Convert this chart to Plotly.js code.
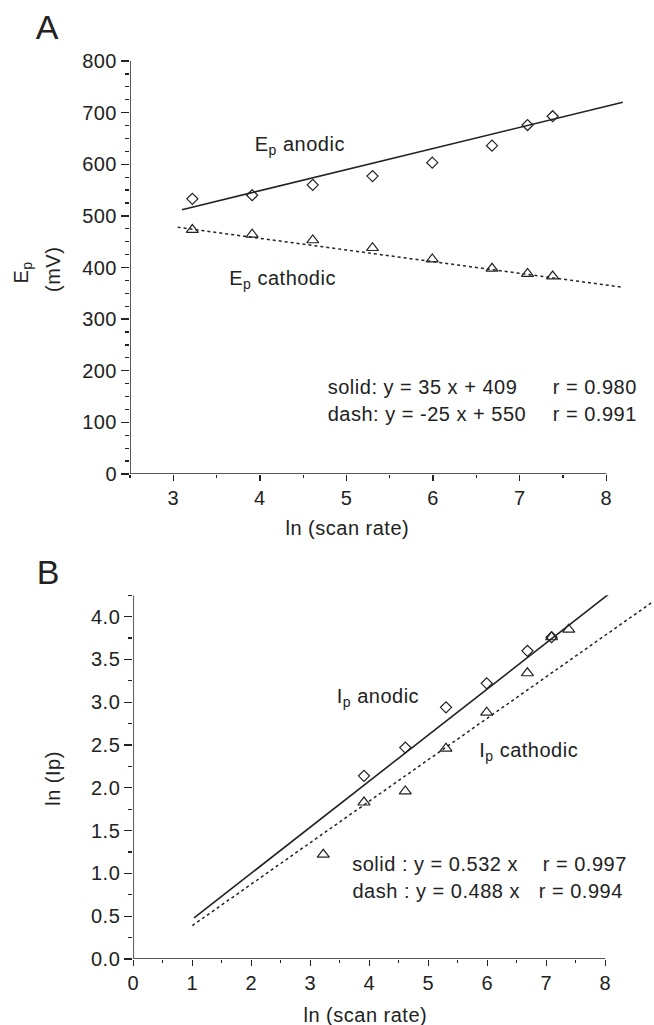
<!DOCTYPE html>
<html>
<head>
<meta charset="utf-8">
<script src="https://cdn.plot.ly/plotly-3.0.1.min.js"></script>
<style>
html,body{margin:0;padding:0;background:#fff;}
#chart svg text{letter-spacing:0.5px;}
</style>
</head>
<body>
<div id="chart" style="width:654px;height:1025px;"></div>
<script>
// ---- Data ----
const lnScanRate = [3.22, 3.91, 4.61, 5.30, 5.99, 6.68, 7.09, 7.38];

// Panel A: peak potentials (mV)
const epAnodic   = [533, 540, 560, 577, 603, 636, 676, 693];
const epCathodic = [473, 464, 453, 438, 416, 398, 388, 383];
const fitA_solid_x = [3.10, 8.19];
const fitA_solid_y = [512, 720];
const fitA_dash_x  = [3.05, 8.18];
const fitA_dash_y  = [478, 362];

// Panel B: ln of peak currents
const lnIpAnodic   = [null, 2.14, 2.47, 2.94, 3.22, 3.60, 3.76, null];
const lnIpCathodic = [1.22, 1.83, 1.96, 2.46, 2.88, 3.34, 3.76, 3.85];
const fitB_solid_x = [1.03, 8.09];
const fitB_solid_y = [0.48, 4.28];
const fitB_dash_x  = [1.0, 8.8];
const fitB_dash_y  = [0.39, 4.17];

// Tick labels
const xTicksA = [3, 4, 5, 6, 7, 8];
const yTicksA = [0, 100, 200, 300, 400, 500, 600, 700, 800];
const xTicksB = [0, 1, 2, 3, 4, 5, 6, 7, 8];
const yTicksB = [0, 0.5, 1.0, 1.5, 2.0, 2.5, 3.0, 3.5, 4.0];

// ---- Layout helpers ----
const W = 654, H = 1025;
const FONT = "Liberation Sans, Arial, Helvetica, sans-serif";
const INK = "#222";
function px(x){ return x / W; }
function py(y){ return 1 - y / H; }
function range(a, b, s){ const r=[]; for(let v=a; v<=b+1e-9; v+=s) r.push(Math.round(v*1000)/1000); return r; }

const markerDia = {symbol:'diamond-open', size:8.5, color:INK, line:{width:1.2, color:INK}};
const markerTri = {symbol:'triangle-up-open', size:10.5, color:INK, line:{width:1.2, color:INK}};

const traces = [
  {x: fitA_solid_x, y: fitA_solid_y, xaxis:'x', yaxis:'y', mode:'lines', line:{color:INK, width:1.6}},
  {x: fitA_dash_x,  y: fitA_dash_y,  xaxis:'x', yaxis:'y', mode:'lines', line:{color:INK, width:1.5, dash:'dot'}},
  {x: lnScanRate, y: epAnodic,   xaxis:'x', yaxis:'y', mode:'markers', marker:markerDia},
  {x: lnScanRate, y: epCathodic, xaxis:'x', yaxis:'y', mode:'markers', marker:markerTri},
  {x: fitB_solid_x, y: fitB_solid_y, xaxis:'x2', yaxis:'y2', mode:'lines', line:{color:INK, width:1.6}},
  {x: fitB_dash_x,  y: fitB_dash_y,  xaxis:'x2', yaxis:'y2', mode:'lines', line:{color:INK, width:1.5, dash:'dot'}},
  {x: lnScanRate, y: lnIpAnodic,   xaxis:'x2', yaxis:'y2', mode:'markers', marker:markerDia},
  {x: lnScanRate, y: lnIpCathodic, xaxis:'x2', yaxis:'y2', mode:'markers', marker:markerTri}
];

const axBase = {showgrid:false, zeroline:false, showline:false, ticks:'outside',
  tickcolor:INK, tickwidth:1.3, tickfont:{family:FONT, size:20, color:INK}, automargin:false, fixedrange:true};

const layout = {
  width: W, height: H,
  margin: {l:0, r:0, t:0, b:0},
  paper_bgcolor:'#fff', plot_bgcolor:'rgba(0,0,0,0)',
  showlegend:false,
  font:{family:FONT, size:20, color:INK},
  xaxis: Object.assign({}, axBase, {domain:[px(130), px(628)], range:[2.5, 8.25], anchor:'y',
    tickmode:'array', tickvals:xTicksA, ticklen:6,
    minor:{tickvals:range(2.5, 7.5, 0.5), ticks:'outside', ticklen:3, tickcolor:INK, tickwidth:1.2}}),
  yaxis: Object.assign({}, axBase, {domain:[py(474), py(61)], range:[0, 800], anchor:'x',
    tickmode:'array', tickvals:yTicksA, ticklen:8,
    minor:{tickvals:range(0, 800, 25), ticks:'outside', ticklen:4, tickcolor:INK, tickwidth:1.2}}),
  xaxis2: Object.assign({}, axBase, {domain:[px(133.3), px(652.5)], range:[0, 8.8], anchor:'y2',
    tickmode:'array', tickvals:xTicksB, ticklen:6,
    minor:{tickvals:range(0, 7.5, 0.5), ticks:'outside', ticklen:3, tickcolor:INK, tickwidth:1.2}}),
  yaxis2: Object.assign({}, axBase, {domain:[py(959), py(595.2)], range:[0, 4.25], anchor:'x2',
    tickmode:'array', tickvals:yTicksB, tickformat:'.1f', ticklen:8,
    minor:{tickvals:range(0, 4.25, 0.25), ticks:'outside', ticklen:4, tickcolor:INK, tickwidth:1.2}}),
  shapes: [
    {type:'line', xref:'x', yref:'y', x0:2.5, x1:8, y0:0, y1:0, line:{color:INK, width:1.5}},
    {type:'line', xref:'x', yref:'y', x0:2.5, x1:2.5, y0:0, y1:800, line:{color:INK, width:1.5}},
    {type:'line', xref:'x2', yref:'y2', x0:0, x1:8, y0:0, y1:0, line:{color:INK, width:1.5}},
    {type:'line', xref:'x2', yref:'y2', x0:0, x1:0, y0:0, y1:4.25, line:{color:INK, width:1.5}}
  ],
  annotations: []
};

function ann(text, x, y, opts){
  return Object.assign({text:text, xref:'paper', yref:'paper', x:px(x), y:py(y),
    xanchor:'left', yanchor:'middle', showarrow:false, font:{family:FONT, size:20, color:INK}}, opts||{});
}
layout.annotations.push(
  ann('A', 47, 27, {xanchor:'center', font:{family:FONT, size:34, color:INK}}),
  ann('B', 48, 572, {xanchor:'center', font:{family:FONT, size:34, color:INK}}),
  ann('E<sub>p</sub>', 22, 272, {xanchor:'center', textangle:-90}),
  ann('(mV)', 53, 270, {xanchor:'center', textangle:-90}),
  ann('ln (scan rate)', 347, 528, {xanchor:'center'}),
  ann('E<sub>p</sub> anodic', 255, 145),
  ann('E<sub>p</sub> cathodic', 230, 279),
  ann('solid: y = 35 x + 409', 331, 387),
  ann('r = 0.980', 553, 387),
  ann('dash: y = -25 x + 550', 331, 414),
  ann('r = 0.991', 553, 414),
  ann('ln (Ip)', 53, 779, {xanchor:'center', textangle:-90}),
  ann('ln (scan rate)', 365, 1015, {xanchor:'center'}),
  ann('I<sub>p</sub> anodic', 337, 697),
  ann('I<sub>p</sub> cathodic', 480, 751),
  ann('solid : y = 0.532 x', 355, 864),
  ann('r = 0.997', 543, 864),
  ann('dash : y = 0.488 x', 355, 891),
  ann('r = 0.994', 539, 891)
);

Plotly.newPlot('chart', traces, layout, {staticPlot:true, displayModeBar:false});
</script>
</body>
</html>
